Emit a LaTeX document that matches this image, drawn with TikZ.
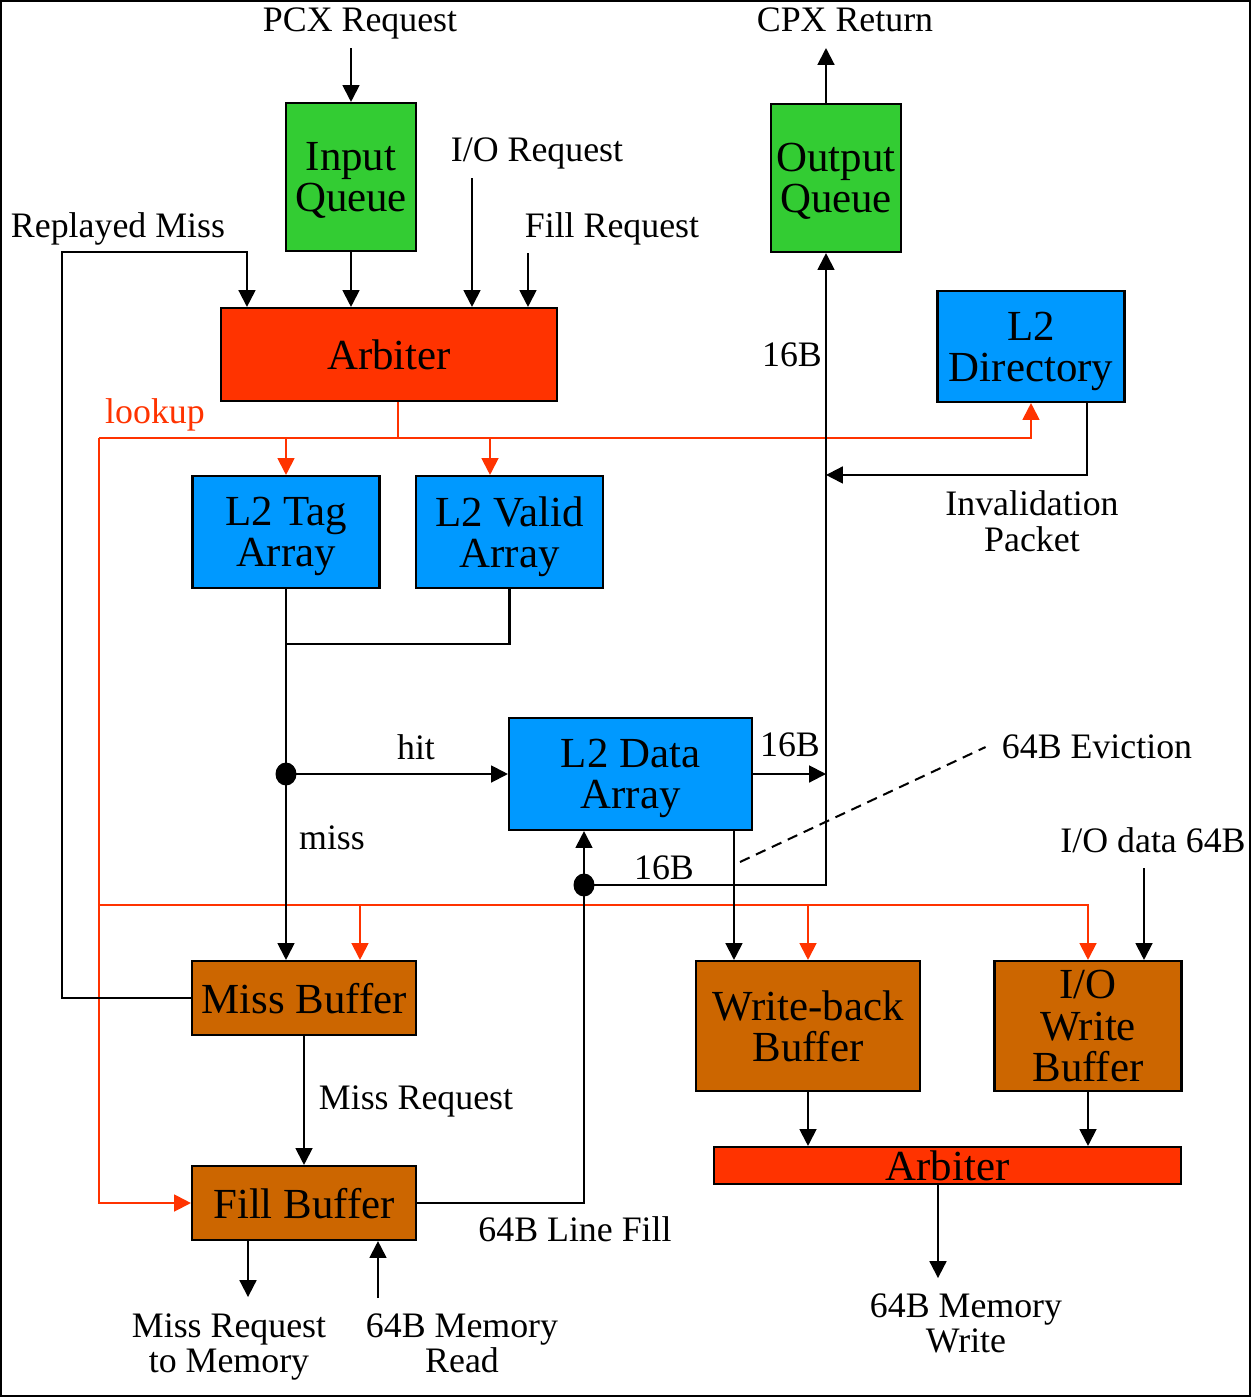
\documentclass[tikz,border=0pt]{standalone}
\usepackage{fontspec}
\setmainfont{Liberation Serif}
\usetikzlibrary{arrows.meta}

\definecolor{qgreen}{HTML}{33CC33}
\definecolor{arbred}{HTML}{FF3300}
\definecolor{lkred}{HTML}{FF3300}
\definecolor{l2blue}{HTML}{0099FF}
\definecolor{bufbrown}{HTML}{CC6600}

\newcommand{\boxfont}{\fontsize{24.4pt}{23.5pt}\selectfont}
\newcommand{\lblfont}{\fontsize{20.4pt}{20.2pt}\selectfont}

\begin{document}
\begin{tikzpicture}[x=0.02cm, y=-0.02cm,
	blk/.style={draw, line width=1.2pt, inner sep=0pt, align=center, text depth=0pt, font=\boxfont},
	lbl/.style={inner sep=0pt, align=center, text depth=0pt, font=\lblfont},
	ln/.style={line width=1.15pt},
	arr/.style={line width=1.15pt, -{Triangle[length=9.6pt,width=9.6pt]}},
	lk/.style={draw=lkred, line width=1.15pt},
	lkarr/.style={lk, -{Triangle[length=9.6pt,width=9.6pt]}, lkred}]

\useasboundingbox (0, 0) rectangle (1251, 1397);
\draw[line width=1.1pt] (1, 1) rectangle (1250, 1396);

% blocks
\node[blk, fill=qgreen, minimum width=2.6cm, minimum height=2.96cm] (inq) at (351, 177) {Input\\Queue};
\node[blk, fill=qgreen, minimum width=2.6cm, minimum height=2.96cm] (outq) at (836, 178) {Output\\Queue};
\node[blk, fill=arbred, minimum width=6.72cm, minimum height=1.86cm] (arb) at (389, 354.5) {Arbiter};
\node[blk, fill=l2blue, minimum width=3.74cm, minimum height=2.22cm] (dir) at (1031, 346.5) {L2\\Directory};
\node[blk, fill=l2blue, minimum width=3.74cm, minimum height=2.24cm] (tag) at (286, 532) {L2 Tag\\Array};
\node[blk, fill=l2blue, minimum width=3.74cm, minimum height=2.24cm] (valid) at (509.5, 532) {L2 Valid\\Array};
\node[blk, fill=l2blue, minimum width=4.86cm, minimum height=2.24cm] (data) at (630.5, 774) {L2 Data\\Array};
\node[blk, fill=bufbrown, minimum width=4.48cm, minimum height=1.48cm] (miss) at (304, 998) {Miss Buffer};
\node[blk, fill=bufbrown, minimum width=4.48cm, minimum height=1.48cm] (fill) at (304, 1203) {Fill Buffer};
\node[blk, fill=bufbrown, minimum width=4.48cm, minimum height=2.6cm] (wb) at (808, 1026) {Write-back\\Buffer};
\node[blk, fill=bufbrown, minimum width=3.74cm, minimum height=2.6cm] (iow) at (1088, 1026) {I/O\\Write\\Buffer};
\node[blk, fill=arbred, minimum width=9.34cm, minimum height=0.74cm] (arbb) at (947.5, 1165.5) {Arbiter};

% labels
\node[lbl] (pcxl) at (360, 20) {PCX Request};
\node[lbl] (cpxl) at (845, 20) {CPX Return};
\node[lbl] (iorl) at (537, 150) {I/O Request};
\node[lbl] (fillrl) at (612, 225) {Fill Request};
\node[lbl] (rpll) at (118, 225) {Replayed Miss};
\node[lbl, text=lkred] (lkl) at (155, 411) {lookup};
\node[lbl] (outbl) at (792, 355) {16B};
\node[lbl] (invl) at (1032, 521) {Invalidation\\Packet};
\node[lbl] (hitl) at (416, 747) {hit};
\node[lbl] (datbl) at (790, 745) {16B};
\node[lbl] (evl) at (1097, 747) {64B Eviction};
\node[lbl] (missl) at (332, 838) {miss};
\node[lbl] (fillbl) at (664, 868) {16B};
\node[lbl] (iodl) at (1153, 840) {I/O data 64B};
\node[lbl] (mreql) at (416, 1098) {Miss Request};
\node[lbl] (linel) at (575, 1229) {64B Line Fill};
\node[lbl] (memrql) at (229, 1343) {Miss Request\\to Memory};
\node[lbl] (memrdl) at (462, 1343) {64B Memory\\Read};
\node[lbl] (memwrl) at (966, 1323) {64B Memory\\Write};

\coordinate (pcx) at (351, 48);
\coordinate (ioreq) at (472, 178);
\coordinate (fillreq) at (528, 253);
\coordinate (rp) at (62, 252);
\coordinate (cpx) at (826, 48);
\coordinate (lk1) at (99, 438);
\coordinate (lk2) at (99, 905);
\coordinate (tv) at (286, 644);
\coordinate (fdot) at (584, 885);
\coordinate (evs) at (740, 862);
\coordinate (iod) at (1144, 868);

% lookup
\draw[lk] ([xshift=0.18cm]arb.south) -- ([xshift=0.18cm]arb.south |- lk1);
\draw[lkarr] (lk1) -| (dir.south);
\draw[lkarr] (tag.north |- lk1) -- (tag.north);
\draw[lkarr] ([xshift=-0.39cm]valid.north |- lk1) -- ([xshift=-0.39cm]valid.north);
\draw[lkarr] (lk1) |- (fill.west);
\draw[lkarr] (lk2) -| (iow.north);
\draw[lkarr] ([xshift=1.12cm]miss.north |- lk2) -- ([xshift=1.12cm]miss.north);
\draw[lkarr] (wb.north |- lk2) -- (wb.north);

% requests into arbiter
\draw[arr] (pcx) -- (pcx |- inq.north);
\draw[arr] (inq.south) -- (inq.south |- arb.north);
\draw[arr] (ioreq) -- (ioreq |- arb.north);
\draw[arr] (fillreq) -- (fillreq |- arb.north);
\draw[arr] (miss.west) -| (rp) -| ([xshift=0.54cm]arb.north west);

% tag / valid / data
\draw[ln] (valid.south) |- (tv);
\draw[arr] (tag.south) -- (tag.south |- miss.north);
\fill (tag.south |- data.west) ellipse [x radius=0.21cm, y radius=0.23cm];
\draw[arr] (tag.south |- data.west) -- (data.west);
\draw[arr] (data.east) -- (data.east -| cpx);
\draw[arr] (fdot) -| (cpx |- outq.south);
\draw[arr] (outq.north -| cpx) -- (cpx);
\draw[arr] ([xshift=1.12cm]dir.south) |- (cpx |- tag.north);
\draw[arr] (fill.east) -| ([xshift=-0.93cm]data.south);
\fill (fdot) ellipse [x radius=0.21cm, y radius=0.23cm];
\draw[arr] ([xshift=2.07cm]data.south) -- ([xshift=2.07cm]data.south |- wb.north);
\draw[ln, dashed, dash pattern=on 6pt off 4pt] (evs) -- ([xshift=-0.32cm]evl.west);

% buffers
\draw[arr] (iod) -- (iod |- iow.north);
\draw[arr] (miss.south) -- (fill.north);
\draw[arr] ([xshift=-1.12cm]fill.south) -- ++(0, 56);
\draw[arr] ([xshift=1.48cm]fill.south) ++(0, 57) -- ([xshift=1.48cm]fill.south);
\draw[arr] (wb.south) -- (wb.south |- arbb.north);
\draw[arr] (iow.south) -- (iow.south |- arbb.north);
\draw[arr] ([xshift=-0.19cm]arbb.south) -- ++(0, 93);

\end{tikzpicture}
\end{document}
